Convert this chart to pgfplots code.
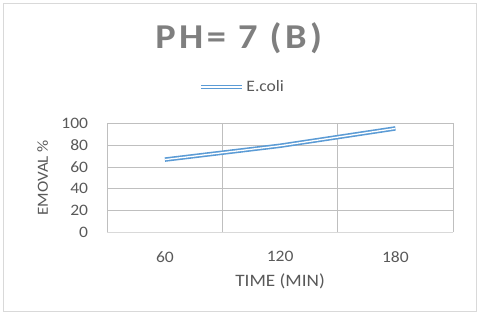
\documentclass[border=0pt]{standalone}
\usepackage{fontspec}
\setmainfont[FakeStretch=1.1]{Carlito}
\newfontfamily\titlefont[FakeStretch=1.1,LetterSpace=10]{Carlito}
\usepackage{pgfplots}
\pgfplotsset{compat=1.18}
\definecolor{lineblue}{HTML}{5B9BD5}
\definecolor{txt}{HTML}{595959}
\definecolor{ttl}{HTML}{7F7F7F}
\definecolor{grid}{HTML}{EEEEEE}
\definecolor{axl}{HTML}{D9D9D9}
\begin{document}
\begin{tikzpicture}[x=1bp,y=1bp]
\useasboundingbox (0,0) rectangle (480,319);
\draw[axl, line width=1bp] (3.5,7.5) rectangle (476.5,315.5);
\begin{axis}[
  at={(107.3bp,86.7bp)}, anchor=south west,
  scale only axis, width=345.7bp, height=109bp,
  xmin=-0.5, xmax=2.5, ymin=0, ymax=100,
  xtick={0,1,2}, xticklabels={60,120,180},
  minor xtick={-0.5,0.5,1.5,2.5},
  ytick={0,20,40,60,80,100},
  major tick length=0pt, minor tick length=0pt,
  xmajorgrids=false, xminorgrids=true, ymajorgrids=true,
  grid style={grid, line width=0.8bp},
  minor grid style={grid, line width=0.8bp},
  axis line style={draw=none},
  /pgf/number format/assume math mode=true,
  ticklabel style={font=\fontsize{16}{16}\selectfont, text=txt, inner sep=0pt},
  yticklabel shift=19bp, xticklabel shift=19bp,
  xlabel={TIME (MIN)}, ylabel={EMOVAL \%},
  xlabel style={font=\fontsize{17.5}{17.5}\selectfont, text=txt, at={(axis description cs:0.5,-0.453)}, anchor=center},
  ylabel style={font=\fontsize{15.5}{15.5}\selectfont, text=txt, at={(axis description cs:-0.187,0.5)}, anchor=center, rotate=0},
  title={PH= 7 (B)},
  title style={font=\titlefont\bfseries\fontsize{35}{35}\selectfont, text=ttl, at={(axis description cs:0.38,1.73)}, anchor=center},
  legend style={at={(axis description cs:0.391,1.333)}, anchor=center, draw=none, fill=none,
    font=\fontsize{16}{16}\selectfont, text=txt, inner sep=0pt},
  legend image code/.code={\draw[#1] (0bp,0bp) -- (41bp,0bp);},
  clip=false,
]
\draw[axl, line width=1.2bp] (axis cs:-0.5,0) -- (axis cs:2.5,0);
\addplot[lineblue, line width=1.6bp, double=white, double distance=1.3bp] coordinates {(0,66.7) (1,79.4) (2,95.3)};
\legend{E.coli}
\end{axis}
\end{tikzpicture}
\end{document}
